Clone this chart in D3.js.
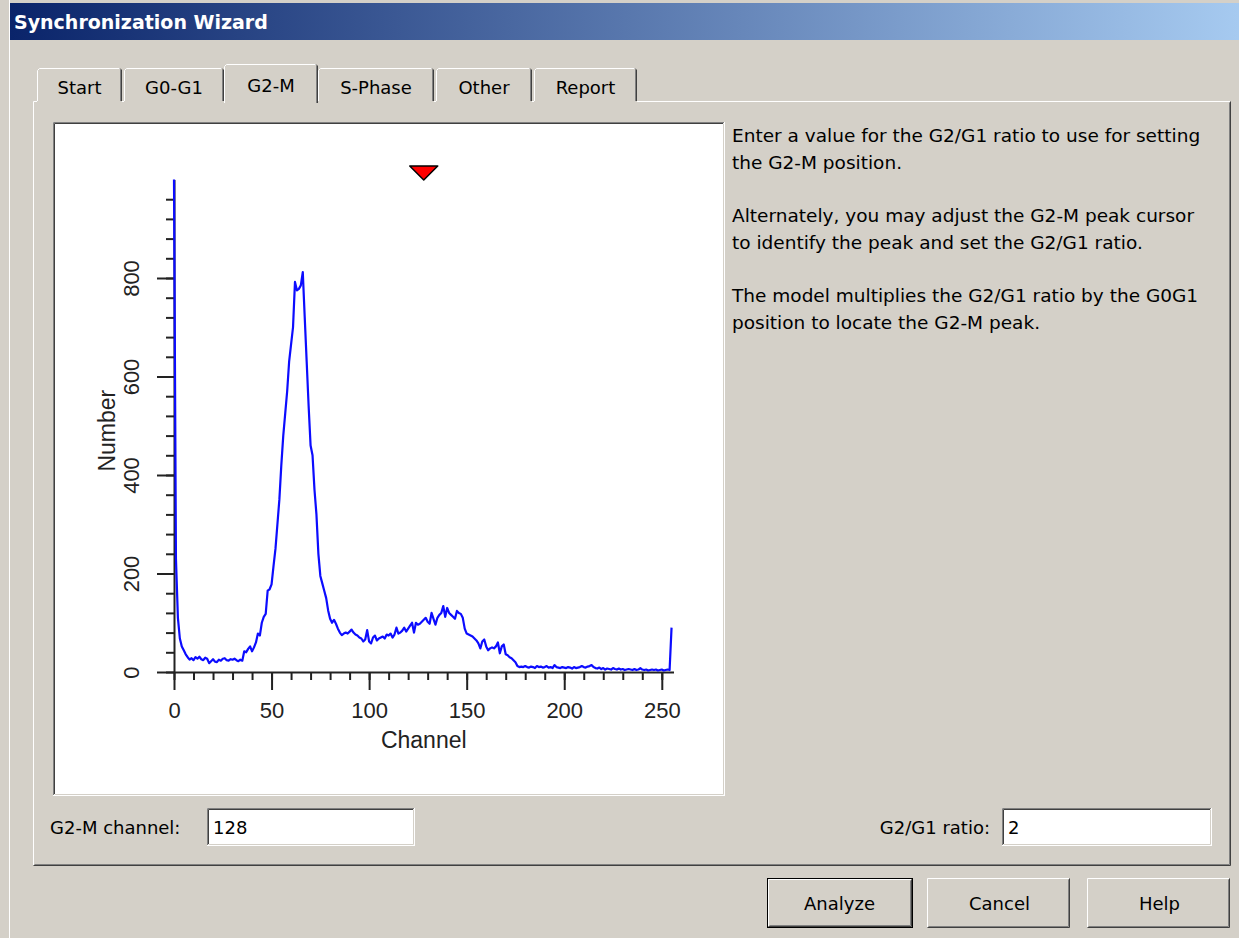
<!DOCTYPE html>
<html>
<head>
<meta charset="utf-8">
<script src="https://cdn.jsdelivr.net/npm/d3@7"></script>
<style>
  html, body { margin: 0; padding: 0; background: #d4d0c8; }
  svg { display: block; }
  .ui { font-family: "DejaVu Sans", sans-serif; font-size: 18px; fill: #000; }
  .help { font-size: 18.5px; }
  .axis text { font-family: "Liberation Sans", Arial, sans-serif; font-size: 22px; fill: #222; }
  .title { font-family: "Liberation Sans", Arial, sans-serif; font-size: 23px; fill: #222; }
</style>
</head>
<body>
<div id="chart"></div>
<script>
// histogram counts, one per channel (0..255)
const counts = [
  1000, 230, 110, 68, 52, 44, 36, 30, 25, 28,
  24, 30, 27, 31, 26, 24, 29, 27, 18, 22,
  26, 21, 20, 25, 23, 27, 28, 24, 23, 26,
  25, 27, 24, 22, 25, 23, 42, 40, 47, 52,
  42, 50, 60, 78, 74, 100, 112, 118, 165, 168,
  178, 215, 250, 300, 350, 420, 480, 525, 570, 630,
  665, 700, 792, 775, 778, 785, 812, 720, 630, 540,
  460, 440, 370, 320, 240, 195, 180, 165, 150, 125,
  108, 100, 106, 98, 88, 80, 75, 78, 80, 78,
  82, 86, 80, 76, 74, 70, 68, 62, 66, 85,
  62, 58, 70, 74, 64, 68, 70, 72, 68, 76,
  74, 78, 70, 76, 90, 78, 80, 84, 90, 82,
  88, 94, 100, 80, 100, 96, 98, 102, 106, 110,
  102, 98, 120, 108, 96, 110, 116, 120, 134, 112,
  130, 120, 116, 112, 108, 124, 120, 118, 110, 88,
  78, 76, 74, 72, 68, 64, 58, 48, 62, 66,
  52, 44, 48, 50, 48, 52, 60, 38, 52, 56,
  36, 34, 30, 28, 24, 20, 12, 10, 11, 10,
  12, 10, 9, 11, 10, 8, 12, 10, 11, 9,
  10, 12, 9, 10, 8, 14, 10, 9, 8, 10,
  9, 8, 10, 9, 7, 10, 8, 9, 10, 12,
  10, 9, 11, 12, 14, 10, 8, 7, 9, 6,
  8, 5, 7, 6, 5, 8, 6, 5, 7, 5,
  6, 4, 5, 6, 5, 4, 6, 4, 5, 8,
  5, 4, 5, 3, 4, 5, 4, 5, 3, 4,
  5, 3, 4, 5, 4, 90
];
const xMajor = [0, 50, 100, 150, 200, 250];
const xMinor = d3.range(0, 256, 10);
const yMajor = [0, 200, 400, 600, 800];
const yMinor = d3.range(0, 1000, 40);

const tabNames = ["Start", "G0-G1", "G2-M", "S-Phase", "Other", "Report"];
const helpLines = [
  "Enter a value for the G2/G1 ratio to use for setting",
  "the G2-M position.",
  "",
  "Alternately, you may adjust the G2-M peak cursor",
  "to identify the peak and set the G2/G1 ratio.",
  "",
  "The model multiplies the G2/G1 ratio by the G0G1",
  "position to locate the G2-M peak."
];
const buttonNames = ["Analyze", "Cancel", "Help"];
const g2mChannel = 128;
const g2g1Ratio = 2;

const W = 1239, H = 938;
const svg = d3.select("#chart").append("svg")
  .attr("width", W).attr("height", H);

const grey = "#d4d0c8", dark = "#404040", mid = "#808080";

svg.append("rect").attr("width", W).attr("height", H).attr("fill", grey);
svg.append("line").attr("x1", 9.5).attr("x2", 9.5).attr("y1", 0).attr("y2", H)
  .attr("stroke", "#fff");

// title bar
const grad = svg.append("defs").append("linearGradient").attr("id", "tb");
grad.append("stop").attr("offset", "0%").attr("stop-color", "#0a246a");
grad.append("stop").attr("offset", "100%").attr("stop-color", "#a6caf0");
svg.append("rect").attr("x", 10).attr("y", 3).attr("width", W - 10).attr("height", 37)
  .attr("fill", "url(#tb)");
svg.append("text").attr("class", "ui").attr("x", 14).attr("y", 29)
  .style("fill", "#fff").style("font-weight", "bold").style("font-size", "19px")
  .text("Synchronization Wizard");

// raised / sunken 3d box helper
function box(x0, y0, x1, y1, raised, fill) {
  const g = svg.append("g");
  g.append("rect").attr("x", x0).attr("y", y0).attr("width", x1 - x0).attr("height", y1 - y0)
    .attr("fill", fill);
  const tl = raised ? ["#fff", grey] : [mid, dark];
  const br = raised ? [dark, mid] : ["#fff", grey];
  [0, 1].forEach(k => {
    g.append("path").attr("fill", "none").attr("stroke", tl[k]).attr("stroke-width", 1)
      .attr("d", `M${x0 + k + 0.5},${y1 - k - 1}V${y0 + k + 0.5}H${x1 - k - 1}`);
    g.append("path").attr("fill", "none").attr("stroke", br[k]).attr("stroke-width", 1)
      .attr("d", `M${x0 + k + 0.5},${y1 - k - 0.5}H${x1 - k - 0.5}V${y0 + k + 0.5}`);
  });
  return g;
}

// tab panel
box(33, 101, 1231, 866, true, grey);

// tabs
const tabEdges = [37, 124, 226, 318, 436, 534, 639];
tabNames.forEach((name, i) => {
  const sel = i === 2;
  const x0 = tabEdges[i] - (sel ? 2 : 0), x1 = tabEdges[i + 1] - 2 + (sel ? 2 : 0);
  const y0 = sel ? 64 : 68, y1 = sel ? 103 : 101;
  const g = svg.append("g");
  g.append("rect").attr("x", x0).attr("y", y0).attr("width", x1 - x0).attr("height", y1 - y0 + 1)
    .attr("fill", grey);
  g.append("path").attr("fill", "none").attr("stroke", "#fff")
    .attr("d", `M${x0 + 0.5},${y1}V${y0 + 2.5}L${x0 + 2.5},${y0 + 0.5}H${x1 - 2}`);
  g.append("path").attr("fill", "none").attr("stroke", dark)
    .attr("d", `M${x1 - 2},${y0 + 0.5}L${x1 - 0.5},${y0 + 2}V${y1}`);
  g.append("path").attr("fill", "none").attr("stroke", mid)
    .attr("d", `M${x1 - 1.5},${y0 + 2}V${y1}`);
  g.append("text").attr("class", "ui").attr("x", (x0 + x1) / 2).attr("y", sel ? 92 : 94)
    .attr("text-anchor", "middle").text(name);
});

// plot area
box(53, 122, 725, 796, false, "#fff");

const x = d3.scaleLinear().domain([0, 256]).range([174, 673.5]);
const y = d3.scaleLinear().domain([0, 1000]).range([672, 179.5]);

const axisColor = "#222";
function styleAxis(g) {
  g.selectAll("line").attr("stroke", axisColor).attr("stroke-width", 2);
  g.selectAll("path").attr("stroke", axisColor).attr("stroke-width", 2);
}

// x axis
svg.append("g").attr("transform", "translate(0,672)")
  .call(d3.axisBottom(x).tickValues(xMinor).tickSize(8).tickSizeOuter(0).tickFormat(""))
  .call(styleAxis);
svg.append("g").attr("class", "axis").attr("transform", "translate(0,672)")
  .call(d3.axisBottom(x).tickValues(xMajor).tickSize(18).tickSizeOuter(0).tickPadding(12))
  .call(styleAxis)
  .call(g => g.select(".domain").remove());

// y axis
svg.append("g").attr("transform", "translate(174,0)")
  .call(d3.axisLeft(y).tickValues(yMinor).tickSize(8).tickSizeOuter(0).tickFormat(""))
  .call(styleAxis);
svg.append("g").attr("class", "axis").attr("transform", "translate(174,0)")
  .call(d3.axisLeft(y).tickValues(yMajor).tickSize(17).tickSizeOuter(0))
  .call(styleAxis)
  .call(g => g.select(".domain").remove())
  .call(g => g.selectAll("text")
    .attr("x", 0).attr("y", 0).attr("dy", "0.35em")
    .attr("text-anchor", "middle")
    .attr("transform", "translate(-43,0) rotate(-90)"));

// axis titles
svg.append("text").attr("class", "title")
  .attr("transform", `translate(107,${y(490)}) rotate(-90)`)
  .attr("text-anchor", "middle").attr("dy", "0.35em")
  .text("Number");
svg.append("text").attr("class", "title")
  .attr("x", x(128)).attr("y", 748)
  .attr("text-anchor", "middle")
  .text("Channel");

// histogram line
svg.append("path").datum(counts)
  .attr("fill", "none").attr("stroke", "#0c0cff").attr("stroke-width", 2.2)
  .attr("stroke-linejoin", "round")
  .attr("d", d3.line().x((d, i) => x(i)).y(d => y(d)));

// G2-M cursor
const cx = x(g2mChannel);
svg.append("path")
  .attr("d", `M${cx - 14},${166}L${cx + 14},${166}L${cx},${180}Z`)
  .attr("fill", "#ff0000").attr("stroke", "#000").attr("stroke-width", 1.5)
  .attr("stroke-linejoin", "round");

// help text
svg.append("g").selectAll("text").data(helpLines).join("text")
  .attr("class", "ui help")
  .attr("x", 732).attr("y", (d, i) => 142 + i * 26.7)
  .text(d => d);

// inputs
svg.append("text").attr("class", "ui").attr("x", 50).attr("y", 834).text("G2-M channel:");
box(207, 808, 415, 846, false, "#fff");
svg.append("text").attr("class", "ui").attr("x", 213).attr("y", 834).text(g2mChannel);

svg.append("text").attr("class", "ui").attr("x", 990).attr("y", 834)
  .attr("text-anchor", "end").text("G2/G1 ratio:");
box(1002, 808, 1212, 846, false, "#fff");
svg.append("text").attr("class", "ui").attr("x", 1008).attr("y", 834).text(g2g1Ratio);

// buttons
const btnX = [767, 927, 1087];
buttonNames.forEach((name, i) => {
  const x0 = btnX[i], x1 = x0 + 143;
  if (i === 0) {
    svg.append("rect").attr("x", x0 + 0.5).attr("y", 878.5).attr("width", 145).attr("height", 49)
      .attr("fill", "none").attr("stroke", "#000");
    box(x0 + 1, 879, x1 + 2, 927, true, grey);
  } else {
    box(x0, 878, x1, 928, true, grey);
  }
  svg.append("text").attr("class", "ui").attr("x", (x0 + x1) / 2 + 1).attr("y", 910)
    .attr("text-anchor", "middle").text(name);
});
</script>
</body>
</html>
